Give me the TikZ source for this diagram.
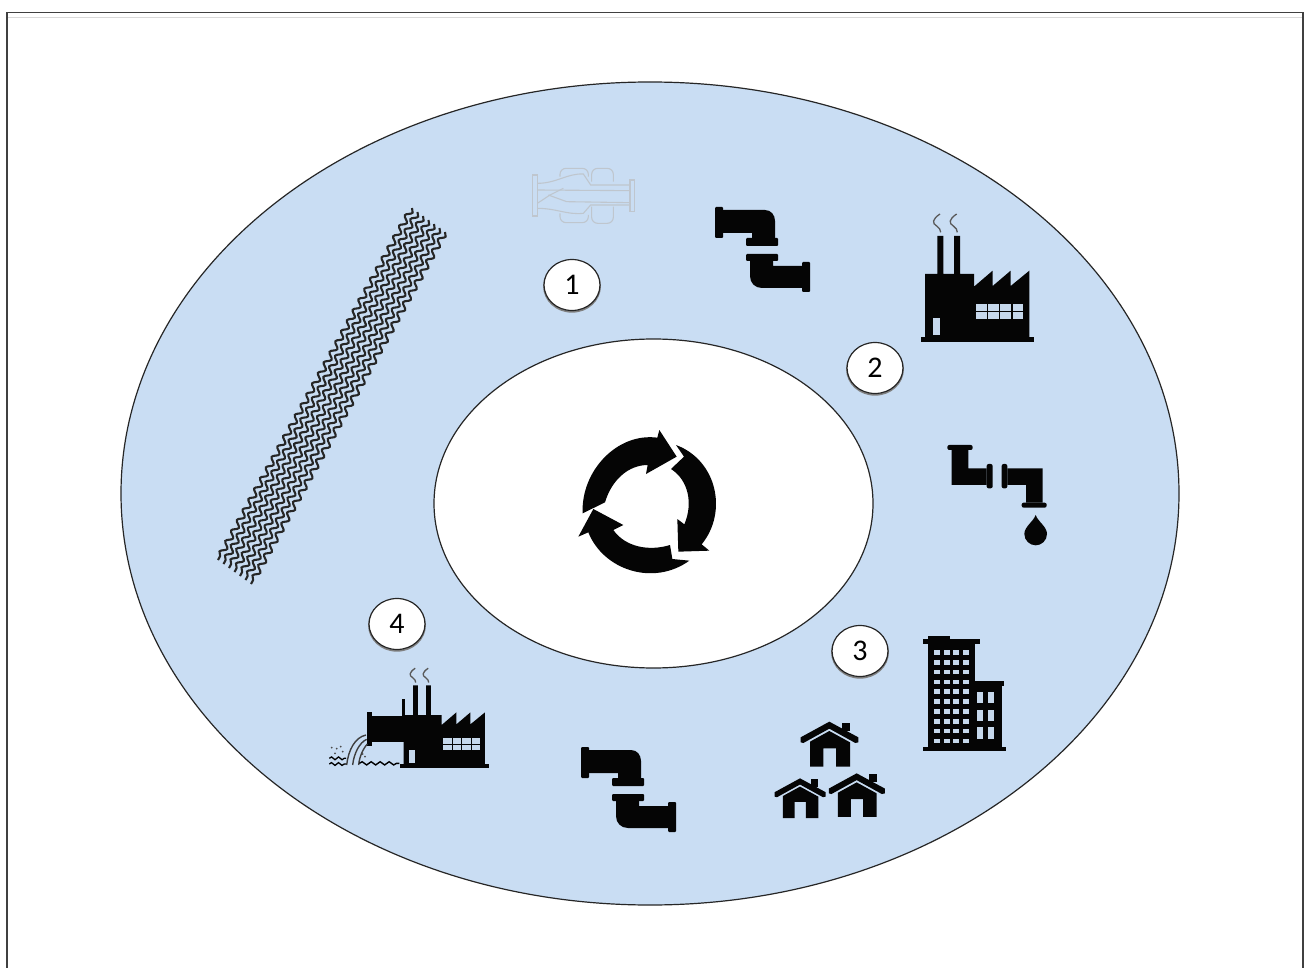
\documentclass[tikz,border=0pt]{standalone}
\usepackage{fontspec}
\setmainfont{Carlito}
\usetikzlibrary{decorations.pathmorphing,shapes.geometric}
\definecolor{seablue}{HTML}{C9DDF3}
\definecolor{pale}{HTML}{C6D8EC}
\definecolor{faded}{HTML}{BFC6CE}
\definecolor{ink}{HTML}{050505}
\tikzset{
  region/.style={draw=black!85,line width=1.2pt},
  badge/.style={ellipse,draw=black!85,line width=1.2pt,fill=white,minimum width=56pt,minimum height=51pt,inner sep=0pt,font=\fontsize{30}{30}\selectfont,
    preaction={draw=black!50,line width=1.8pt,transform canvas={yshift=-1.3pt}}},
  wave/.style={draw=black!85,line width=2.1pt,decorate,decoration={snake,amplitude=2.8pt,segment length=12pt}},
  icon/.style={fill=ink},
  smoke/.style={draw=black!65,line width=1.3pt},
  water/.style={draw=black!75,line width=1.4pt},
  ghost/.style={draw=faded,line width=1.1pt}
}
\newcommand{\drawpipe}{%
    \fill[icon,rounded corners=1pt] (0,0) rectangle (8,31);
    \fill[icon] (8,3) -- (50,3) .. controls (56,3) and (60,8) .. (60,14) -- (60,31) -- (37,31) -- (37,26) -- (8,26) -- cycle;
    \fill[icon,rounded corners=1pt] (31,31) rectangle (63,39);
    \fill[icon,rounded corners=1pt] (31,47) rectangle (63,54);
    \fill[icon] (35,54) -- (58,54) -- (58,59) -- (87,59) -- (87,81) -- (47,81) .. controls (40,81) and (35,76) .. (35,69) -- cycle;
    \fill[icon,rounded corners=1pt] (87,55) rectangle (95,85);
}
\newcommand{\drawfactory}{%
    \fill[icon] (62,410) rectangle (402,425);
    \fill[icon] (75,412) -- (75,222) -- (112,222) -- (112,108) -- (130,108) -- (130,222) -- (162,222) -- (162,108) -- (180,108) -- (180,222) -- (222,222) -- (222,260) -- (278,212) -- (278,258) -- (332,212) -- (332,258) -- (388,212) -- (388,412) -- cycle;
    \fill[pale] (98,355) rectangle (120,405);
    \foreach \i in {0,1,2,3}{\foreach \j in {0,1}{
      \fill[pale] ({228+36.5*\i},{312+25*\j}) rectangle ++(32,21);}}
    \draw[smoke] (120,42) .. controls (96,58) and (96,70) .. (110,78) .. controls (118,83) and (122,90) .. (122,97);
    \draw[smoke] (170,42) .. controls (146,58) and (146,70) .. (160,78) .. controls (168,83) and (172,90) .. (172,97);
}
\newcommand{\drawhouse}{%
    \fill[icon] (37,3) rectangle (62,28);
    \fill[icon] (-86,47) -- (0,0) -- (87,47) -- (87,62) -- (78,64) -- (0,21) -- (-78,64) -- (-86,62) -- cycle;
    \fill[icon] (-58,60) -- (0,28) -- (62,62) -- (62,135) -- (20,135) -- (20,80) -- (-18,80) -- (-18,135) -- (-58,135) -- cycle;
}
\begin{document}
\begin{tikzpicture}[x=1pt,y=-1pt]
\useasboundingbox (0,0) rectangle (1304,968);
\fill[white] (0,0) rectangle (1304,968);
\draw[black!75,line width=1.2pt] (7,968) -- (7,12.5) -- (1303,12.5) -- (1303,968);
\draw[black!15,line width=.8pt] (8,17.5) -- (1302,17.5);
\draw[region,fill=seablue] (650,493.5) ellipse [x radius=529,y radius=411.5];
\draw[region,fill=white] (653.5,503.5) ellipse [x radius=219.5,y radius=164.5];

% corrugated band
\foreach \i in {0,...,6}{
  \draw[wave] ({412+5.5*\i},{208+4*\i}) -- ({218+5.5*\i},{560+4*\i});
}

% recycle arrows
\begin{scope}[shift={(560,415)},scale=1/3]
\fill[icon] (68,295) .. controls (62,170) and (170,52) .. (292,68) -- (298,45) -- (350,125) -- (258,177) -- (263,150) .. controls (205,150) and (155,195) .. (135,262) -- cycle;
\fill[icon] (348,90) -- (372,125) -- (333,162) .. controls (385,195) and (400,265) .. (373,328) -- (352,312) -- (355,410) -- (448,407) -- (425,388) .. controls (505,290) and (470,135) .. (348,90) -- cycle;
\fill[icon] (388,437) -- (337,432) -- (330,390) .. controls (265,410) and (195,395) .. (160,345) -- (190,330) -- (100,282) -- (55,365) -- (85,352) .. controls (130,465) and (280,515) .. (388,437) -- cycle;
\end{scope}

% faded fitting
\begin{scope}[shift={(500,150)},scale=1/3]
\draw[ghost] (98,75) rectangle (112,198);
\draw[ghost] (390,90) rectangle (403,185);
\draw[ghost,rounded corners=6pt] (180,80) -- (180,55) -- (265,55) -- (265,80);
\draw[ghost,rounded corners=6pt] (275,95) -- (275,55) -- (340,55) -- (340,95);
\draw[ghost,rounded corners=6pt] (180,190) -- (180,218) -- (265,218) -- (265,195);
\draw[ghost,rounded corners=6pt] (275,170) -- (275,220) -- (340,220) -- (340,170);
\draw[ghost] (112,100) .. controls (170,100) and (200,70) .. (250,72) -- (272,105) -- (390,105);
\draw[ghost] (112,175) .. controls (170,175) and (200,195) .. (250,190) -- (272,165) -- (390,165);
\draw[ghost] (112,120) -- (390,122);
\draw[ghost] (112,160) -- (150,135) -- (190,115);
\draw[ghost] (145,135) -- (200,155) -- (390,158);
\end{scope}

% pipes
\begin{scope}[shift={(715,207)}]\drawpipe\end{scope}
\begin{scope}[shift={(581,747)}]\drawpipe\end{scope}

% factory 1
\begin{scope}[shift={(900,200)},scale=1/3]\drawfactory\end{scope}

% faucet with drop
\begin{scope}[shift={(900,200)},scale=1/3]
\fill[icon,rounded corners=2pt] (142,735) rectangle (218,750);
\fill[icon] (155,750) -- (205,750) -- (205,805) -- (260,805) -- (260,855) -- (155,855) -- cycle;
\fill[icon,rounded corners=2pt] (260,792) rectangle (278,865);
\fill[icon,rounded corners=2pt] (305,792) rectangle (322,865);
\fill[icon] (322,805) -- (428,805) -- (428,908) -- (378,908) -- (378,855) -- (322,855) -- cycle;
\fill[icon,rounded corners=2pt] (365,908) rectangle (440,923);
\fill[icon] (407,945) .. controls (400,965) and (373,980) .. (373,1002) .. controls (373,1022) and (390,1036) .. (407,1036) .. controls (424,1036) and (441,1022) .. (441,1002) .. controls (441,980) and (414,965) .. (407,945) -- cycle;
\end{scope}

% buildings and houses
\begin{scope}[shift={(760,620)},scale=1/3]
\fill[icon] (505,48) rectangle (570,60);
\fill[icon] (490,58) rectangle (660,72);
\fill[icon] (503,70) rectangle (645,385);
\fill[icon] (645,182) rectangle (732,197);
\fill[icon] (645,195) rectangle (725,385);
\fill[icon] (490,380) rectangle (738,392);
\foreach \i in {0,1,2,3}{\foreach \j in {0,...,9}{
  \fill[pale] ({523+28.7*\i},{90+29.5*\j}) rectangle ++(18,14);}}
\foreach \i in {0,1}{\foreach \j in {0,1,2}{
  \fill[pale] ({650+35*\i},{215+53.5*\j}) rectangle ++(18,35);}}
\begin{scope}[shift={(208,305)}]\drawhouse\end{scope}
\begin{scope}[shift={(120,475)},scale=.885]\drawhouse\end{scope}
\begin{scope}[shift={(290,460)},scale=.97]\drawhouse\end{scope}
\end{scope}

% outfall factory
\begin{scope}[shift={(320,650)},scale=1/3]
\begin{scope}[shift={(192,22)},scale=.78]\drawfactory\end{scope}
\fill[icon] (246,148) rectangle (256,198);
\fill[icon] (140,185) rectangle (155,288);
\fill[icon] (155,198) rectangle (252,275);
\draw[water] (138,255) .. controls (105,262) and (85,300) .. (80,345);
\draw[water] (140,268) .. controls (118,278) and (102,310) .. (98,345);
\draw[water] (142,282) .. controls (130,295) and (118,320) .. (116,345);
\draw[black,line width=1.3pt,decorate,decoration={snake,amplitude=1.4pt,segment length=7pt}] (28,325) -- (78,325);
\draw[black,line width=1.3pt,decorate,decoration={snake,amplitude=1.4pt,segment length=7pt}] (28,342) -- (78,342);
\draw[black,line width=1.4pt,decorate,decoration={snake,amplitude=1.6pt,segment length=9pt}] (118,340) -- (238,340);
\foreach \p in {(35,293),(50,296),(62,290),(68,305),(45,310),(135,320),(128,312)}{\fill[black!70] \p circle (3);}
\end{scope}

% number badges
\node[badge] (n1) at (572,285) {1};
\node[badge] (n2) at (875,368) {2};
\node[badge] (n3) at (860,651) {3};
\node[badge] (n4) at (397,624) {4};
\end{tikzpicture}
\end{document}
